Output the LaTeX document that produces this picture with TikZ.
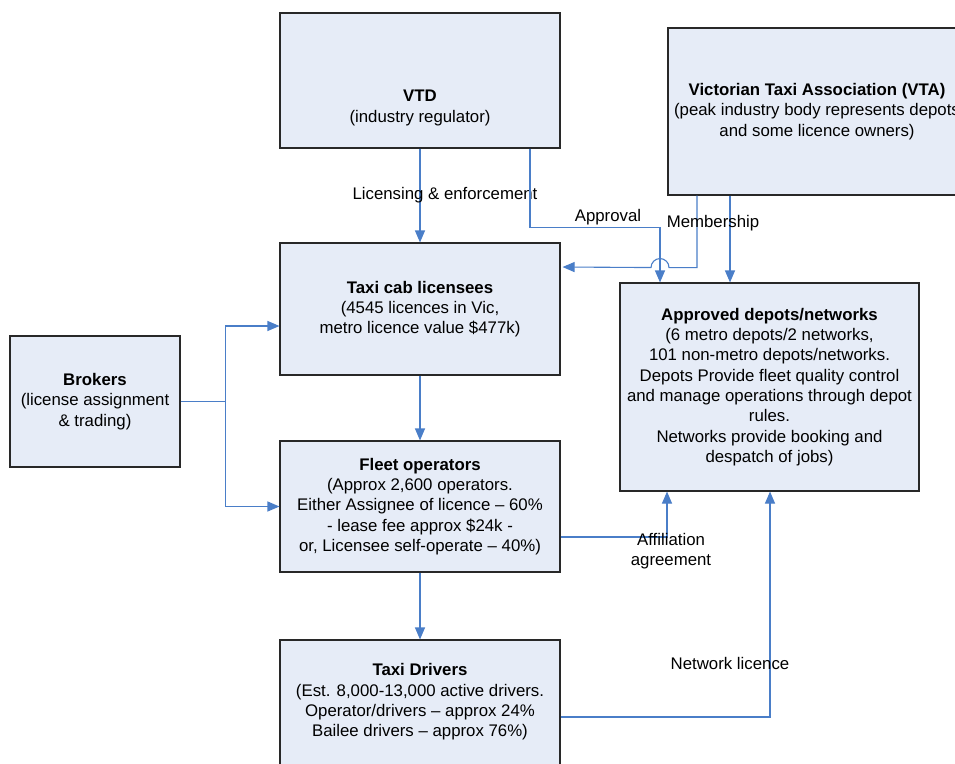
\documentclass[tikz,border=0pt]{standalone}
\usepackage{fontspec}
\setmainfont{Liberation Sans}
\usetikzlibrary{arrows.meta}
\definecolor{boxfill}{RGB}{230,236,247}
\definecolor{boxline}{RGB}{40,40,40}
\definecolor{conncol}{RGB}{74,126,200}
\tikzset{
  box/.style={draw=boxline, fill=boxfill, line width=1.1pt, rectangle, inner sep=0pt},
  txt/.style={align=center, font=\fontsize{16.8}{20.3}\selectfont, inner sep=0pt},
  conn/.style={draw=conncol, line width=1.1pt, -{Triangle[length=12pt,width=10pt]}},
  plain/.style={draw=conncol, line width=1.1pt},
  lbl/.style={font=\fontsize{16.8}{20.3}\selectfont, align=center, inner sep=0pt}
}
\begin{document}
\begin{tikzpicture}[x=1pt,y=-1pt]
\useasboundingbox (0,0) rectangle (955,763);
\clip (0,0) rectangle (955,763);
\fill[white] (0,0) rectangle (955,763);
% boxes
\node[box, minimum width=280pt, minimum height=135pt] (vtd) at (420,80.5) {};
\node[txt] (vtdtext) at (420,108) {\textbf{VTD}\\(industry regulator)};
\node[box, minimum width=298pt, minimum height=167pt, txt] (vta) at (817,111.5)
  {\textbf{Victorian Taxi Association (VTA)}\\(peak industry body represents depots\\and some licence owners)};
\node[box, minimum width=280pt, minimum height=132pt, txt] (lic) at (420,309)
  {\textbf{Taxi cab licensees}\\(4545 licences in Vic,\\metro licence value \$477k)};
\node[box, minimum width=299pt, minimum height=208pt, txt] (dep) at (769.5,387)
  {\textbf{Approved depots/networks}\\(6 metro depots/2 networks,\\101 non-metro depots/networks.\\Depots Provide fleet quality control\\and manage operations through depot\\rules.\\Networks provide booking and\\despatch of jobs)};
\node[box, minimum width=170pt, minimum height=131pt, txt] (brk) at (95,401.5)
  {\textbf{Brokers}\\(license assignment\\\& trading)};
\node[box, minimum width=280pt, minimum height=131pt, txt] (fleet) at (420,506.5)
  {\textbf{Fleet operators}\\(Approx 2,600 operators.\\Either Assignee of licence -- 60\%\\- lease fee approx \$24k -\\or, Licensee self-operate -- 40\%)};
\node[box, minimum width=280pt, minimum height=130pt] (drv) at (420,705) {};
\node[txt] (drvtext) at (420,702)
  {\textbf{Taxi Drivers}\\(Est. 8,000-13,000 active drivers.\\Operator/drivers -- approx 24\%\\Bailee drivers -- approx 76\%)};
% connectors
\draw[conn] (vtd.south) -- (lic.north);
\node[lbl] (l1) at (445,195) {Licensing \& enforcement};
\draw[conn] ([xshift=110pt]vtd.south) -- ++(0,79) -| ([xshift=-109.5pt]dep.north);
\node[lbl] (l2) at (608,217) {Approval};
\draw[conn] ([xshift=-120pt]vta.south) -- ++(0,72) -- ++(-28,0)
  arc[start angle=0, end angle=180, radius=9pt] -- ([yshift=42pt,xshift=2pt]lic.east);
\draw[conn] ([xshift=-87pt]vta.south) -- ([xshift=-39.5pt]dep.north);
\node[lbl] (l3) at (713,223) {Membership};
\draw[conn] (lic.south) -- (fleet.north);
\draw[plain] (brk.east) -- ++(45,0) coordinate (bj);
\draw[conn] (bj) |- ([yshift=-17pt]lic.west);
\draw[conn] (bj) |- (fleet.west);
\draw[conn] ([yshift=-30.5pt]fleet.east) -| ([xshift=-102.5pt]dep.south);
\node[lbl] (l4) at (671,551) {Affiliation\\agreement};
\draw[conn] ([yshift=-12pt]drv.east) -| ([xshift=0.5pt]dep.south);
\node[lbl] (l5) at (730,663) {Network licence};
\draw[conn] (fleet.south) -- (drv.north);
\end{tikzpicture}
\end{document}
